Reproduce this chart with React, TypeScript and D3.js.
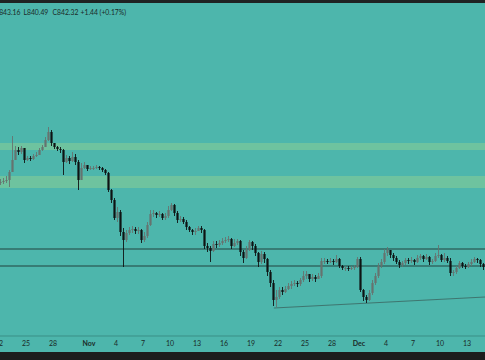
import { useEffect, useRef } from 'react'
import * as d3 from 'd3'

// 8h candles starting Oct 22
const startTime = Date.UTC(2023, 9, 22)
const barHours = 8
const firstOpen = 884

const closes = [
  884.5, 885, 885.5, 889.5, 895.5, 900.5, 899.5, 901.5, 895.5, 896.5,
  896, 897.5, 898, 900.5, 902, 905.5, 909.5, 904, 902, 901,
  900.5, 894.5, 896.5, 895, 897, 894.5, 885.5, 891.5, 893, 891,
  891.5, 891.5, 892, 891.5, 890.5, 889, 880.5, 875.5, 866.5, 869.5,
  859.5, 855.5, 859, 860.5, 861, 860, 860.5, 855.5, 857.5, 863,
  868.5, 869, 868, 868.5, 866.5, 867.5, 870.5, 873, 869, 865.5,
  866, 864.5, 862, 860.5, 859.5, 860, 861.5, 860.5, 852.5, 851.5,
  850, 853.5, 853, 854, 855, 855.5, 856, 852.5, 854, 855,
  849.5, 846.5, 850.5, 854.5, 852.5, 849, 844.5, 848.5, 846, 839.5,
  834, 825.5, 827, 830.5, 829.5, 831, 832.5, 833.5, 834, 833.5,
  835.5, 837.5, 838.5, 836, 837, 836, 837.5, 845, 845, 844.5,
  845, 844.5, 846, 842.5, 841.5, 841.5, 841, 841.5, 842, 846,
  830.5, 827, 825.5, 829, 834, 837.5, 842.5, 844.5, 849, 850.5,
  848, 846.5, 844.5, 843, 844, 845.5, 845, 845.5, 844.5, 846.5,
  847.5, 846, 847, 844.5, 845, 847.5, 848, 845.5, 846.5, 845,
  839, 839.5, 841.5, 844, 842.5, 842, 843.5, 844.5, 846, 845.5,
  843.5, 842, 841.5,
]

const highs = [
  886, 886.5, 887.5, 890.5, 907.5, 902.5, 902, 902.5, 900.5, 897.5,
  897.5, 898.5, 899.5, 901.5, 903, 907, 912, 910.5, 904, 902.5,
  902, 901, 898, 897.5, 899.5, 898.5, 895.5, 894, 894.5, 893,
  892.5, 892.5, 893, 892.5, 892, 891, 889.5, 881, 876.5, 872,
  870.5, 861.5, 860.5, 862, 862.5, 862, 862, 861, 859.5, 864.5,
  870.5, 870.5, 869.5, 870, 869, 869, 872.5, 874, 873.5, 870,
  867.5, 867, 865.5, 862.5, 861, 861.5, 862.5, 862.5, 861, 854,
  852.5, 855, 855, 855.5, 856.5, 857, 857.5, 856.5, 856, 856,
  855.5, 850.5, 852.5, 855.5, 855, 853.5, 849.5, 850, 849.5, 846.5,
  840.5, 835.5, 830.5, 832, 832, 832.5, 834, 835, 835.5, 835,
  836.5, 840, 840, 838.5, 838.5, 838, 839, 846.5, 846.5, 846,
  846.5, 846, 848, 846.5, 843, 842.5, 842.5, 842.5, 843, 847,
  847, 831, 828, 830.5, 835.5, 839, 844, 846, 851, 852,
  850.5, 849, 847.5, 845.5, 845, 846.5, 846.5, 847, 846, 848,
  848.5, 848, 848.5, 847.5, 846, 849, 853, 848.5, 849, 847.5,
  846.5, 840.5, 842.5, 845, 844.5, 843.5, 844.5, 846, 847, 846.5,
  846, 844, 843,
]

const lows = [
  883, 883.5, 884, 882, 893, 896.5, 898, 898.5, 894, 895,
  895, 895.5, 897, 899, 900, 902, 905, 902.5, 901, 900,
  899, 888, 894, 893.5, 894.5, 893, 880.5, 886.5, 891, 890,
  890.5, 890.5, 891, 890.5, 889.5, 888, 879.5, 874, 865.5, 864.5,
  857.5, 842, 854.5, 858, 859, 858.5, 858.5, 854, 854.5, 856.5,
  862.5, 867, 866.5, 867, 865.5, 865.5, 866.5, 870, 867.5, 864,
  864.5, 863.5, 860.5, 859.5, 858, 858, 860, 859, 851, 849.5,
  844.5, 849.5, 851.5, 852, 853, 854, 854.5, 851, 852, 853,
  847.5, 844, 846, 850, 850.5, 847.5, 842, 843.5, 844, 837.5,
  832, 822.5, 822, 826, 828, 829, 830.5, 831, 832.5, 832,
  832.5, 834.5, 836, 834.5, 835, 834.5, 836, 836.5, 843.5, 843.5,
  844, 843, 844, 841.5, 840.5, 840, 840, 840.5, 840.5, 841.5,
  829.5, 825, 824, 825, 828, 833, 836.5, 841.5, 843.5, 847.5,
  846.5, 845, 843.5, 841.5, 842, 843, 843.5, 844, 843, 844,
  845.5, 844.5, 845.5, 843, 843.5, 844.5, 846.5, 844.5, 844.5, 844,
  837.5, 837.5, 838.5, 841, 841.5, 841, 841.5, 842.5, 844, 844,
  842, 840.5, 840.5,
]

// supply / demand zones [low, high]
const zones = [[900.5, 904], [881.5, 887.5]]
// horizontal levels
const levels = [851, 842.5]
// rising trendline under the lows
const trendPoints = [
  { time: Date.UTC(2023, 10, 21, 13), price: 821.5 },
  { time: Date.UTC(2023, 11, 15), price: 827 },
]

const tickDates = [
  Date.UTC(2023, 9, 22), Date.UTC(2023, 9, 25), Date.UTC(2023, 9, 28),
  Date.UTC(2023, 10, 1), Date.UTC(2023, 10, 4), Date.UTC(2023, 10, 7),
  Date.UTC(2023, 10, 10), Date.UTC(2023, 10, 13), Date.UTC(2023, 10, 16),
  Date.UTC(2023, 10, 19), Date.UTC(2023, 10, 22), Date.UTC(2023, 10, 25),
  Date.UTC(2023, 10, 28), Date.UTC(2023, 11, 1), Date.UTC(2023, 11, 4),
  Date.UTC(2023, 11, 7), Date.UTC(2023, 11, 10), Date.UTC(2023, 11, 13),
]

// header readout; first one is right-aligned (cut at the left edge)
const legendItems = [
  { text: '843.16', x: 20.5, anchor: 'end' },
  { text: 'L840.49', x: 23.5, anchor: 'start' },
  { text: 'C842.32', x: 52.5, anchor: 'start' },
  { text: '+1.44 (+0.17%)', x: 80.5, anchor: 'start' },
]

const W = 485
const H = 360

export default function App() {
  const svgRef = useRef<SVGSVGElement>(null)

  useEffect(() => {
    if (!svgRef.current) return
    const svg = d3.select(svgRef.current)
    svg.selectAll('*').remove()

    const xScale = d3.scaleUtc()
      .domain([new Date(Date.UTC(2023, 9, 22)), new Date(Date.UTC(2023, 11, 16))])
      .range([-1, 494])

    const yScale = d3.scaleLinear()
      .domain([820, 920])
      .range([311, 111])

    const axisY = 336
    const font = 'Lato, "Open Sans", sans-serif'

    // background
    svg.append('rect').attr('width', W).attr('height', H).attr('fill', '#4db6ac')
    svg.append('rect').attr('width', W).attr('height', 3).attr('fill', '#1f2323')
    svg.append('rect').attr('y', 352).attr('width', W).attr('height', 8).attr('fill', '#1c1d1d')

    const plot = svg.append('g')

    // zones
    plot.selectAll('.zone')
      .data(zones)
      .enter().append('rect')
      .attr('x', 0)
      .attr('width', W)
      .attr('y', d => yScale(d[1]))
      .attr('height', d => yScale(d[0]) - yScale(d[1]))
      .attr('fill', '#6ec39f')

    // levels
    plot.selectAll('.level')
      .data(levels)
      .enter().append('line')
      .attr('x1', 0).attr('x2', W)
      .attr('y1', d => yScale(d)).attr('y2', d => yScale(d))
      .attr('stroke', '#23433f')
      .attr('stroke-width', 1)

    // trendline
    const trend = d3.line<{ time: number; price: number }>()
      .x(d => xScale(new Date(d.time)))
      .y(d => yScale(d.price))
    plot.append('path')
      .datum(trendPoints)
      .attr('d', trend)
      .attr('fill', 'none')
      .attr('stroke', '#3b6460')
      .attr('stroke-width', 0.8)

    // candles
    const candles = closes.map((c, i) => {
      const open = i === 0 ? firstOpen : closes[i - 1]
      return {
        time: startTime + i * barHours * 3600 * 1000,
        open,
        close: c,
        high: Math.max(highs[i], open, c),
        low: Math.min(lows[i], open, c),
      }
    })
    const barW = xScale(new Date(startTime + barHours * 3600 * 1000)) - xScale(new Date(startTime))
    const upColor = '#66736f'
    const downColor = '#0e1313'

    const cg = plot.selectAll('.candle')
      .data(candles)
      .enter().append('g')
      .attr('class', 'candle')
      .attr('transform', d => `translate(${xScale(new Date(d.time)) + barW / 2},0)`)

    cg.append('line')
      .attr('x1', 0).attr('x2', 0)
      .attr('y1', d => yScale(d.high))
      .attr('y2', d => yScale(d.low))
      .attr('stroke', d => (d.close >= d.open ? upColor : downColor))
      .attr('stroke-width', 0.9)

    cg.append('rect')
      .attr('x', -1.1)
      .attr('width', 2.2)
      .attr('y', d => yScale(Math.max(d.open, d.close)))
      .attr('height', d => Math.max(1, Math.abs(yScale(d.open) - yScale(d.close))))
      .attr('fill', d => (d.close >= d.open ? upColor : downColor))

    // time axis
    svg.append('line')
      .attr('x1', 0).attr('x2', W)
      .attr('y1', axisY).attr('y2', axisY)
      .attr('stroke', '#3b8f86')
      .attr('stroke-width', 1)

    const fmt = (d: Date) => {
      if (d.getUTCDate() === 1) return d3.utcFormat('%b')(d)
      return String(d.getUTCDate())
    }

    svg.selectAll('.tick-label')
      .data(tickDates)
      .enter().append('text')
      .attr('x', d => xScale(new Date(d)))
      .attr('y', 346)
      .attr('text-anchor', 'middle')
      .style('font-family', font)
      .style('font-size', '7px')
      .style('font-weight', d => (new Date(d).getUTCDate() === 1 ? 'bold' : 'normal'))
      .style('fill', '#1b2a28')
      .text(d => fmt(new Date(d)))

    // OHLC header
    svg.selectAll('.legend')
      .data(legendItems)
      .enter().append('text')
      .attr('x', d => d.x)
      .attr('y', 15)
      .attr('text-anchor', d => d.anchor)
      .style('font-family', font)
      .style('font-size', '6.8px')
      .style('fill', '#1b2a28')
      .text(d => d.text)
  }, [])

  return (
    <svg
      ref={svgRef}
      width={W}
      height={H}
      style={{ position: 'absolute', left: 0, top: 0, display: 'block' }}
    />
  )
}
